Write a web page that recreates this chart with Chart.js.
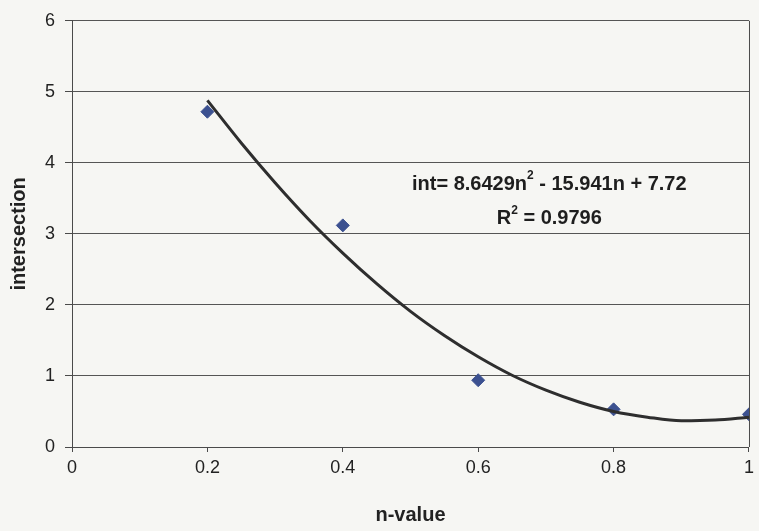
<!DOCTYPE html>
<html>
<head>
<meta charset="utf-8">
<script src="https://cdn.jsdelivr.net/npm/chart.js@4/dist/chart.umd.min.js"></script>
<style>
html,body{margin:0;padding:0;background:#f6f6f3;}
#wrap{width:759px;height:531px;position:relative;}
</style>
</head>
<body>
<div id="wrap"><canvas id="c" width="759" height="531"></canvas></div>
<script>
// Measured points
const nValues = [0.2, 0.4, 0.6, 0.8, 1.0];
const intersectionValues = [4.72, 3.12, 0.94, 0.53, 0.46];
// Trendline
const trendN = [0.2, 0.25, 0.3, 0.35, 0.4, 0.45, 0.5, 0.55, 0.6, 0.65, 0.7, 0.75, 0.8, 0.85, 0.9, 0.95, 1.0];
const trendInt = [4.88, 4.28, 3.72, 3.20, 2.73, 2.30, 1.91, 1.57, 1.27, 1.01, 0.80, 0.63, 0.50, 0.42, 0.37, 0.38, 0.42];
const xTicks = [0, 0.2, 0.4, 0.6, 0.8, 1];
const yTicks = [0, 1, 2, 3, 4, 5, 6];
const equationText = "int= 8.6429n² - 15.941n + 7.72";
const r2Text = "R² = 0.9796";

const FONT = "'Liberation Sans', Arial, sans-serif";

const plotBorder = {
  id: 'plotBorder',
  afterDraw(chart) {
    const {ctx, chartArea: a} = chart;
    ctx.save();
    ctx.strokeStyle = '#4a4a4a';
    ctx.lineWidth = 1;
    ctx.beginPath();
    ctx.moveTo(a.right + 0.5, a.top);
    ctx.lineTo(a.right + 0.5, a.bottom);
    ctx.stroke();
    ctx.restore();
  }
};

function drawSup(ctx, text, cx, cy) {
  const parts = text.split('²');
  const big = "bold 20px " + FONT, small = "bold 12px " + FONT;
  let w = 0;
  parts.forEach((p, i) => {
    ctx.font = big; w += ctx.measureText(p).width;
    if (i < parts.length - 1) { ctx.font = small; w += ctx.measureText('2').width; }
  });
  let x = cx - w / 2;
  ctx.textAlign = 'left';
  ctx.textBaseline = 'middle';
  parts.forEach((p, i) => {
    ctx.font = big; ctx.fillText(p, x, cy); x += ctx.measureText(p).width;
    if (i < parts.length - 1) {
      ctx.font = small; ctx.fillText('2', x, cy - 8); x += ctx.measureText('2').width;
    }
  });
}

const eqLabel = {
  id: 'eqLabel',
  afterDatasetsDraw(chart) {
    const {ctx, scales} = chart;
    const cx = scales.x.getPixelForValue(0.705);
    ctx.save();
    ctx.fillStyle = '#1e1e1e';
    drawSup(ctx, equationText, cx, scales.y.getPixelForValue(3.70));
    drawSup(ctx, r2Text, cx, scales.y.getPixelForValue(3.22));
    ctx.restore();
  }
};

new Chart(document.getElementById('c'), {
  type: 'scatter',
  data: {
    datasets: [
      {
        type: 'scatter',
        label: 'intersection',
        data: nValues.map((n, i) => ({x: n, y: intersectionValues[i]})),
        pointStyle: 'rectRot',
        pointRadius: 6.5,
        pointBackgroundColor: '#3c5190',
        pointBorderColor: '#3c5190',
        order: 2
      },
      {
        type: 'line',
        label: 'trend',
        data: trendN.map((n, i) => ({x: n, y: trendInt[i]})),
        borderColor: '#2e2e2e',
        borderWidth: 3,
        pointRadius: 0,
        fill: false,
        cubicInterpolationMode: 'monotone',
        order: 1
      }
    ]
  },
  options: {
    responsive: false,
    animation: false,
    devicePixelRatio: 1,
    layout: {padding: {top: 20, right: 10, left: 0, bottom: 0}},
    plugins: {legend: {display: false}, tooltip: {enabled: false}},
    scales: {
      x: {
        type: 'linear', min: 0, max: 1,
        afterBuildTicks(s) { s.ticks = xTicks.map(v => ({value: v})); },
        afterFit(s) { s.height = 84; },
        grid: {drawOnChartArea: false, drawTicks: true, tickLength: 5, tickColor: '#4a4a4a', color: '#4a4a4a'},
        border: {display: true, color: '#4a4a4a', width: 1},
        ticks: {color: '#222', font: {family: FONT, size: 18}, padding: 5, maxRotation: 0,
          callback: v => String(v)},
        title: {display: true, text: 'n-value', color: '#222', font: {family: FONT, size: 20, weight: 'bold'}, padding: {top: 4, bottom: 4}}
      },
      y: {
        min: 0, max: 6,
        afterBuildTicks(s) { s.ticks = yTicks.map(v => ({value: v})); },
        afterFit(s) { s.width = 72; },
        grid: {color: '#555', lineWidth: 1, drawTicks: true, tickLength: 7, tickColor: '#4a4a4a'},
        border: {display: true, color: '#4a4a4a', width: 1},
        ticks: {color: '#222', font: {family: FONT, size: 18}, padding: 10},
        title: {display: true, text: 'intersection', color: '#222', font: {family: FONT, size: 20, weight: 'bold'}, padding: {top: 7, bottom: 0}}
      }
    }
  },
  plugins: [plotBorder, eqLabel]
});
</script>
</body>
</html>
